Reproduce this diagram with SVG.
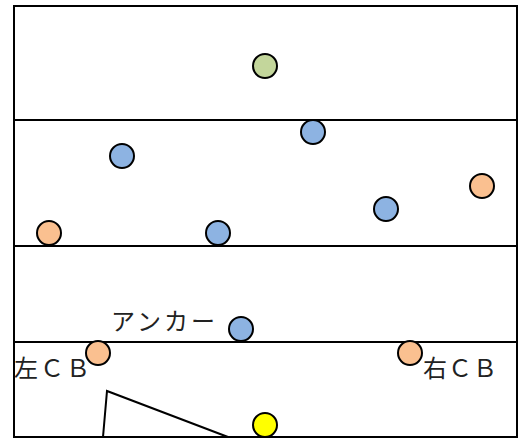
<svg xmlns="http://www.w3.org/2000/svg" width="518" height="439" viewBox="0 0 518 439">
<style>
.ln{fill:none;stroke:#000;stroke-width:2}
.c{stroke:#000;stroke-width:2}
.b{fill:#8db3e2}.o{fill:#fac090}.g{fill:#c3d69b}.y{fill:#ffff00}
.t{font-family:"Liberation Serif","Noto Sans CJK JP",serif;font-size:24px;fill:#222}
</style>
<rect width="518" height="439" fill="#fff"/>
<g id="field">
<rect class="ln" x="14" y="6" width="503" height="431"/>
<line class="ln" x1="14" y1="120" x2="517" y2="120"/>
<line class="ln" x1="14" y1="246" x2="517" y2="246"/>
<line class="ln" x1="14" y1="342" x2="517" y2="342"/>
<polyline class="ln" points="103,437 107,391 228,437"/>
</g>
<g id="green"><circle class="c g" cx="265" cy="66" r="12"/></g>
<g id="blue1"><circle class="c b" cx="313" cy="132" r="12"/></g>
<g id="blue2"><circle class="c b" cx="122" cy="156" r="12"/></g>
<g id="orange1"><circle class="c o" cx="482" cy="186" r="12"/></g>
<g id="blue3"><circle class="c b" cx="386" cy="209" r="12"/></g>
<g id="orange2"><circle class="c o" cx="49" cy="233" r="12"/></g>
<g id="blue4"><circle class="c b" cx="218" cy="233" r="12"/></g>
<g id="anchor"><circle class="c b" cx="241" cy="329" r="12"/><text class="t" x="111" y="330" textLength="104" lengthAdjust="spacing">アンカー</text></g>
<g id="leftcb"><circle class="c o" cx="98" cy="353" r="12"/><text class="t" x="14" y="377" textLength="76" lengthAdjust="spacing">左ＣＢ</text></g>
<g id="rightcb"><circle class="c o" cx="410" cy="353" r="12"/><text class="t" x="423" y="377" textLength="74" lengthAdjust="spacing">右ＣＢ</text></g>
<g id="yellow"><circle class="c y" cx="265" cy="425" r="12"/></g>
<g id="connectors"></g>
</svg>
